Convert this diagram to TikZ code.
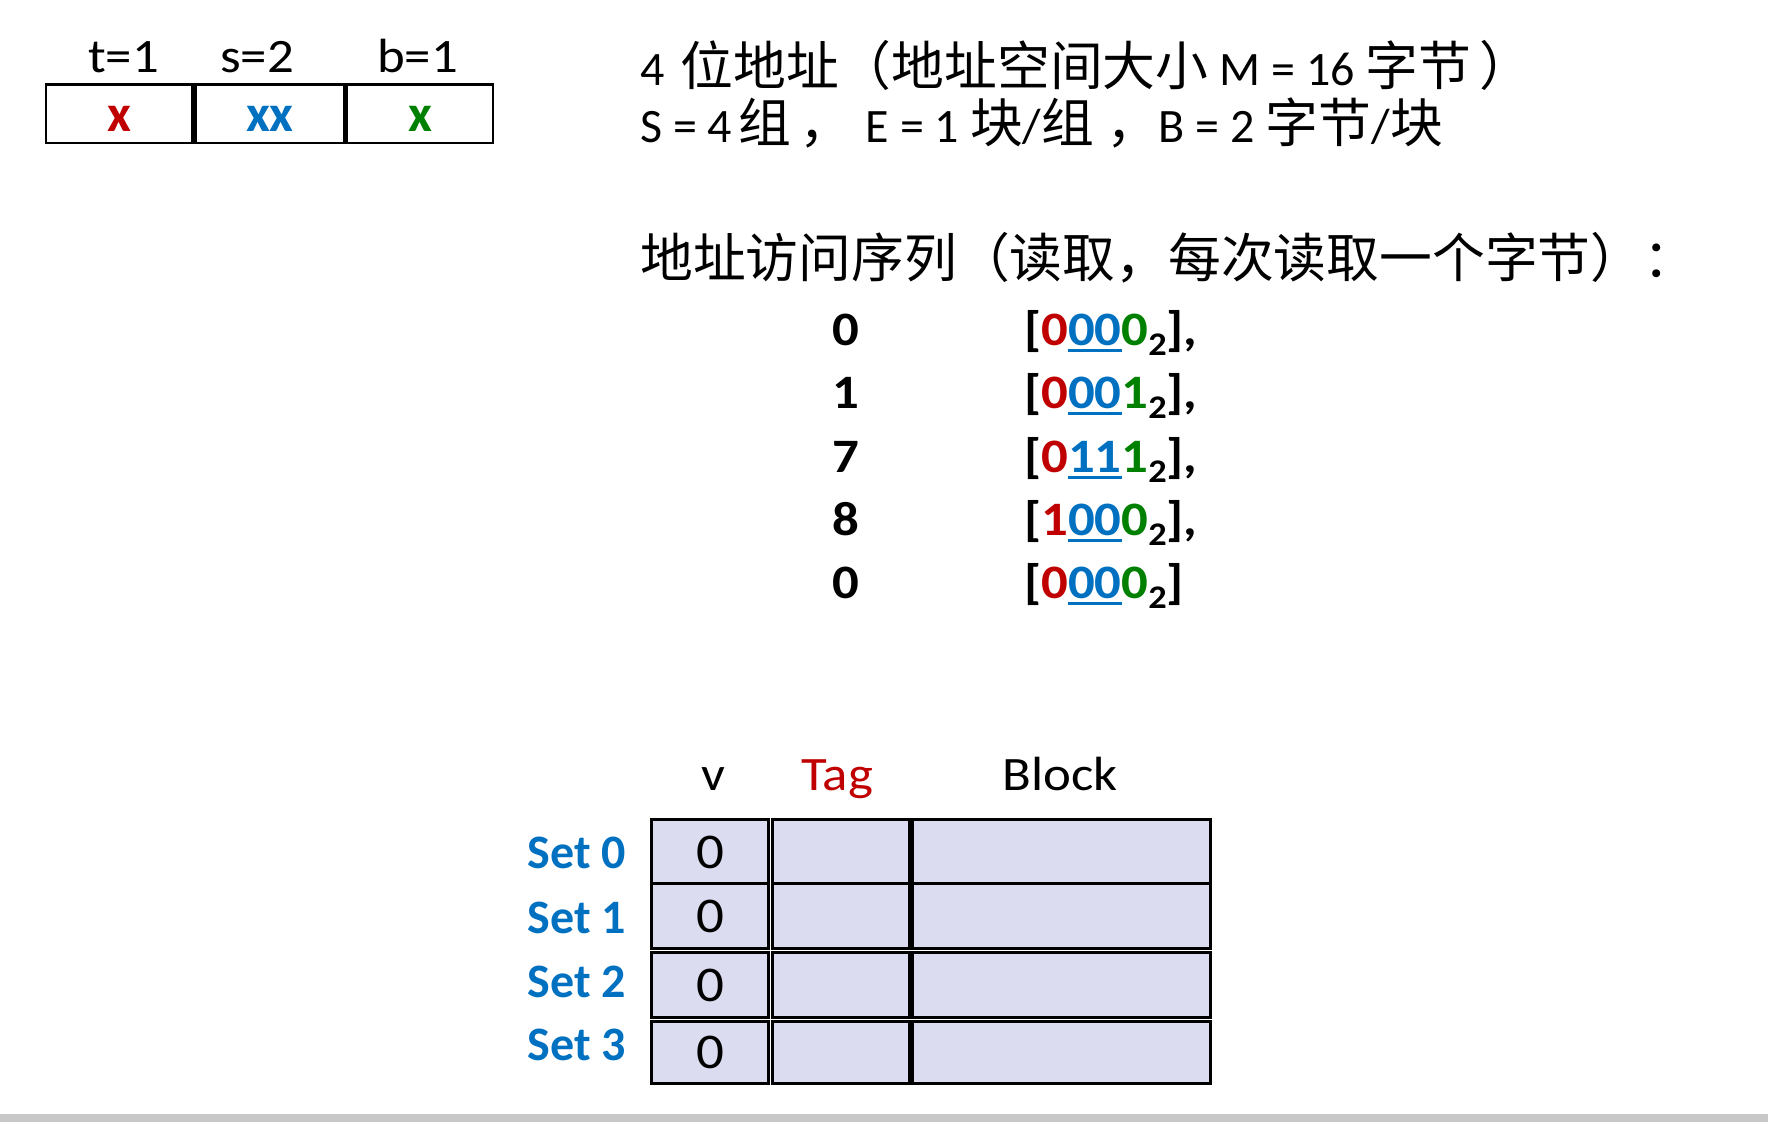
\documentclass[tikz,border=0pt]{standalone}
\usepackage{fontspec}
\setmainfont{Carlito}
\newfontfamily\widefont{Carlito}[FakeStretch=1.1]
\newfontfamily\cjk{Noto Sans CJK SC}[Scale=1.1]
\newcommand\zh[1]{{\cjk #1}}
\definecolor{cred}{HTML}{C00000}
\definecolor{cblue}{HTML}{0070C0}
\definecolor{cgreen}{HTML}{008000}
\definecolor{cfill}{HTML}{DCDCF0}
\definecolor{cbar}{HTML}{C8C8C8}
\newcommand\xT[1]{\textcolor{cred}{#1}}
\newcommand\xB[1]{\textcolor{cgreen}{#1}}
\newcommand\xSu[1]{\textcolor{cblue}{\setbox0\hbox{#1}\rlap{\rule[-6.5pt]{\wd0}{3pt}}\box0}}
\newcommand\subtwo{\raisebox{-10pt}{\fontsize{33}{33}\selectfont 2}}
\tikzset{
  txt/.style={inner sep=0pt, font=\fontsize{48}{58}\selectfont},
  widetxt/.style={inner sep=0pt, font=\fontsize{48}{58}\selectfont\widefont},
  boldtxt/.style={inner sep=0pt, font=\fontsize{48}{58}\selectfont\widefont\bfseries},
  fieldcell/.style={draw=black, line width=2.6pt, fill=white, inner sep=0pt,
    minimum height=58.7pt, text height=35pt, text depth=0pt,
    font=\fontsize{52}{60}\selectfont\bfseries},
  cachecell/.style={draw=black, line width=3pt, fill=cfill, inner sep=0pt,
    text height=33pt, text depth=0pt, font=\fontsize{50}{58}\selectfont\widefont},
  setlabel/.style={inner sep=0pt, anchor=base east, text=cblue,
    font=\fontsize{48}{58}\selectfont\bfseries},
}
\begin{document}
\begin{tikzpicture}[x=1pt,y=-1pt]
\useasboundingbox (0,0) rectangle (1768,1122);
\fill[white] (0,0) rectangle (1768,1122);
% bottom bar
\fill[cbar] (0,1114) rectangle (1768,1122);

% address field box
\node[widetxt, anchor=base] (lt) at (123.5,72) {t=1};
\node[widetxt, anchor=base] (ls) at (257,72) {s=2};
\node[widetxt, anchor=base] (lb) at (417.5,72) {b=1};
\node[fieldcell, minimum width=146.3pt, text=cred] (ft) at (119.2,113.7) {x};
\node[fieldcell, minimum width=148.9pt, text=cblue] (fs) at (269.9,113.7) {xx};
\node[fieldcell, minimum width=146pt, text=cgreen] (fb) at (420,113.7) {x};

% description
\node[txt, anchor=base west] (l1) at (640,85)
  {4\hspace{16pt}\zh{位地址（地址空间大小} M = 16 \zh{字节}\hspace{8pt}\zh{）}};
\node[txt, anchor=base west] (l2) at (640,142)
  {S = 4\hspace{6pt}\zh{组}\hspace{9pt}\zh{，}\hspace{13pt}E = 1 \zh{块}/\zh{组}\hspace{12pt}\zh{，}B = 2 \zh{字节}/\zh{块}};
\node[txt, anchor=base west] (l3) at (640,277)
  {\zh{地址访问序列（读取，每次读取一个字节）：}};

% access sequence
\node[boldtxt, anchor=base] (n0) at (846,345) {0};
\node[boldtxt, anchor=base] (n1) at (846,408) {1};
\node[boldtxt, anchor=base] (n2) at (846,472) {7};
\node[boldtxt, anchor=base] (n3) at (846,535) {8};
\node[boldtxt, anchor=base] (n4) at (846,598) {0};
\node[boldtxt, anchor=base west] (a0) at (1024,345) {[\xT{0}\xSu{00}\xB{0}\subtwo],};
\node[boldtxt, anchor=base west] (a1) at (1024,408) {[\xT{0}\xSu{00}\xB{1}\subtwo],};
\node[boldtxt, anchor=base west] (a2) at (1024,472) {[\xT{0}\xSu{11}\xB{1}\subtwo],};
\node[boldtxt, anchor=base west] (a3) at (1024,535) {[\xT{1}\xSu{00}\xB{0}\subtwo],};
\node[boldtxt, anchor=base west] (a4) at (1024,598) {[\xT{0}\xSu{00}\xB{0}\subtwo]};

% cache headers
\node[widetxt, anchor=base] (hv) at (713,790) {v};
\node[widetxt, anchor=base, text=cred] (htag) at (837,790) {Tag};
\node[widetxt, anchor=base] (hblk) at (1060,790) {Block};

% cache table
\foreach \r/\cy/\h/\bl in {0/851.5/64/868, 1/915.75/64.5/933, 2/984.75/64.5/997, 3/1052.25/62.5/1060}{
  \node[cachecell, minimum width=117pt, minimum height=\h pt] (v\r) at (710,\cy) {0};
  \node[cachecell, minimum width=137pt, minimum height=\h pt] (t\r) at (841,\cy) {};
  \node[cachecell, minimum width=298pt, minimum height=\h pt] (b\r) at (1061.5,\cy) {};
  \node[setlabel] (s\r) at (626,\bl) {Set \r};
}
\end{tikzpicture}
\end{document}
